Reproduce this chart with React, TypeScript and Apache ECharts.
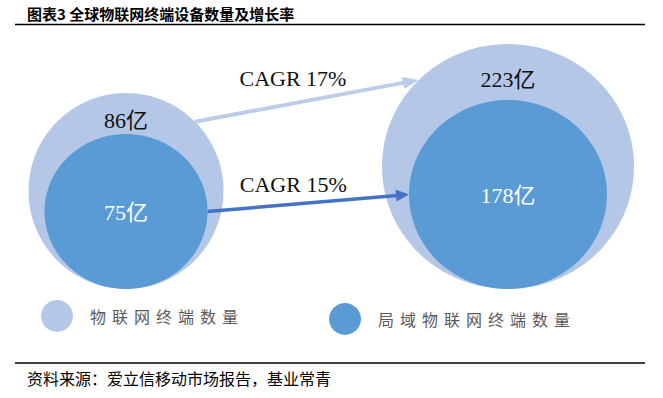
import React, { useEffect, useRef } from 'react';
import * as echarts from 'echarts';

// ---- data ----
const periods = ['期初', '期末'];
const seriesNames = ['物联网终端数量', '局域物联网终端数量'];
const totalDevices = [86, 223];
const localDevices = [75, 178];
const cagrValues = [17, 15];
const unit = '亿';
const titleText = '图表3 全球物联网终端设备数量及增长率';
const sourceText = '资料来源：爱立信移动市场报告，基业常青';

// ---- layout / style ----
const LIGHT = '#b4c7e7';
const DARK = '#5b9bd5';
const OUTER_R = [[97.5, 98], [126, 122.5]];
const INNER_R = [[81.5, 77.5], [99, 94.5]];
const ARROWS = [
  { radii: OUTER_R, angles: [45, 135], color: '#bccde9', width: 4, headL: 16, headW: 12, labelDx: -14, labelDy: -22 },
  { radii: INNER_R, angles: [0, 180], color: '#4472c4', width: 3.5, headL: 13, headW: 12, labelDx: -15, labelDy: -19 },
];
const NUM_FONT = "'Liberation Serif', 'Noto Sans CJK SC', serif";
const CJK_FONT = "'Noto Sans CJK SC', sans-serif";
const LEGEND_FONT = "'Noto Sans CJK SC', LegendKai";

function circleItem(radii: number[][], color: string, labelColor: string, labelPos: 'top' | 'center') {
  return (params: any, api: any) => {
    const i = api.value(0);
    const p = api.coord([i, 0]);
    const [rx, ry] = radii[i];
    const cy = p[1] - ry;
    let ly = cy + 1;
    if (labelPos === 'top') {
      const outerTop = p[1] - 2 * ry;
      const innerTop = p[1] - 2 * INNER_R[i][1];
      ly = (outerTop + innerTop) / 2 + 7;
    }
    return {
      type: 'group',
      children: [
        { type: 'ellipse', shape: { cx: p[0], cy, rx, ry }, style: { fill: color } },
        {
          type: 'text',
          x: p[0],
          y: ly,
          style: {
            text: api.value(2) + unit,
            fill: labelColor,
            fontSize: 22,
            fontFamily: NUM_FONT,
            align: 'center',
            verticalAlign: 'middle',
          },
        },
      ],
    };
  };
}

function arrowItem(params: any, api: any) {
  const a = ARROWS[params.dataIndex];
  const p0 = api.coord([0, 0]);
  const p1 = api.coord([1, 0]);
  const pt = (p: number[], r: number[], deg: number) => {
    const t = (deg * Math.PI) / 180;
    return [p[0] + r[0] * Math.cos(t), p[1] - r[1] - r[1] * Math.sin(t)];
  };
  const s = pt(p0, a.radii[0], a.angles[0]);
  const e = pt(p1, a.radii[1], a.angles[1]);
  const dx = e[0] - s[0];
  const dy = e[1] - s[1];
  const len = Math.hypot(dx, dy);
  const ux = dx / len;
  const uy = dy / len;
  const bx = e[0] - ux * a.headL;
  const by = e[1] - uy * a.headL;
  const nx = -uy;
  const ny = ux;
  const mx = (s[0] + e[0]) / 2;
  const my = (s[1] + e[1]) / 2;
  return {
    type: 'group',
    children: [
      {
        type: 'line',
        shape: { x1: s[0], y1: s[1], x2: bx + ux, y2: by + uy },
        style: { stroke: a.color, lineWidth: a.width },
      },
      {
        type: 'polygon',
        shape: {
          points: [
            [e[0], e[1]],
            [bx + (nx * a.headW) / 2, by + (ny * a.headW) / 2],
            [bx - (nx * a.headW) / 2, by - (ny * a.headW) / 2],
          ],
        },
        style: { fill: a.color },
      },
      {
        type: 'text',
        x: mx + a.labelDx,
        y: my + a.labelDy,
        style: {
          text: `CAGR ${api.value(2)}%`,
          fill: '#111',
          fontSize: 22,
          fontFamily: NUM_FONT,
          align: 'center',
          verticalAlign: 'middle',
        },
      },
    ],
  };
}

const legendCommon = {
  orient: 'horizontal',
  padding: 0,
  itemWidth: 32,
  itemHeight: 32,
  itemGap: 0,
  selectedMode: false,
  textStyle: {
    fontSize: 16,
    color: '#595959',
    fontFamily: LEGEND_FONT,
    padding: [0, 0, 0, 12],
  },
};

export default function App() {
  const ref = useRef<HTMLDivElement>(null);
  useEffect(() => {
    if (!ref.current) return;
    const chart = echarts.init(ref.current, null, { renderer: 'svg' });
    chart.setOption({
      animation: false,
      backgroundColor: '#fff',
      grid: { left: 126, right: 155, top: 40, bottom: 109 },
      xAxis: { type: 'category', data: periods, boundaryGap: false, show: false },
      yAxis: { type: 'value', min: 0, max: 1, show: false },
      legend: [
        { ...legendCommon, left: 41, top: 300, data: [{ name: seriesNames[0], icon: 'circle' }] },
        { ...legendCommon, left: 329, top: 303, data: [{ name: seriesNames[1], icon: 'circle' }] },
      ],
      series: [
        {
          type: 'custom',
          name: seriesNames[0],
          itemStyle: { color: LIGHT },
          z: 1,
          data: totalDevices.map((v, i) => [i, 0, v]),
          renderItem: circleItem(OUTER_R, LIGHT, '#111', 'top'),
        },
        {
          type: 'custom',
          name: seriesNames[1],
          itemStyle: { color: DARK },
          z: 2,
          data: localDevices.map((v, i) => [i, 0, v]),
          renderItem: circleItem(INNER_R, DARK, '#ffffff', 'center'),
        },
        {
          type: 'custom',
          name: 'CAGR',
          z: 3,
          data: cagrValues.map((v, i) => [i, 0, v]),
          renderItem: arrowItem,
        },
      ],
      graphic: [
        {
          type: 'text',
          x: 27,
          y: 13,
          style: {
            text: titleText,
            fill: '#000',
            font: `bold 15px ${CJK_FONT}`,
            align: 'left',
            verticalAlign: 'middle',
          },
        },
        {
          type: 'line',
          shape: { x1: 15, y1: 24.5, x2: 645, y2: 24.5 },
          style: { stroke: '#000', lineWidth: 1.3 },
        },
        {
          type: 'line',
          shape: { x1: 15, y1: 363, x2: 645, y2: 363 },
          style: { stroke: '#000', lineWidth: 1.3 },
        },
        {
          type: 'text',
          x: 27,
          y: 378,
          style: {
            text: sourceText,
            fill: '#000',
            font: `16px ${CJK_FONT}`,
            align: 'left',
            verticalAlign: 'middle',
          },
        },
      ],
    });
    return () => chart.dispose();
  }, []);
  return (
    <>
      <style>{"text[style*='LegendKai']{letter-spacing:6px}"}</style>
      <div
        ref={ref}
        style={{ position: 'fixed', left: 0, top: 0, width: 663, height: 398 }}
      />
    </>
  );
}
